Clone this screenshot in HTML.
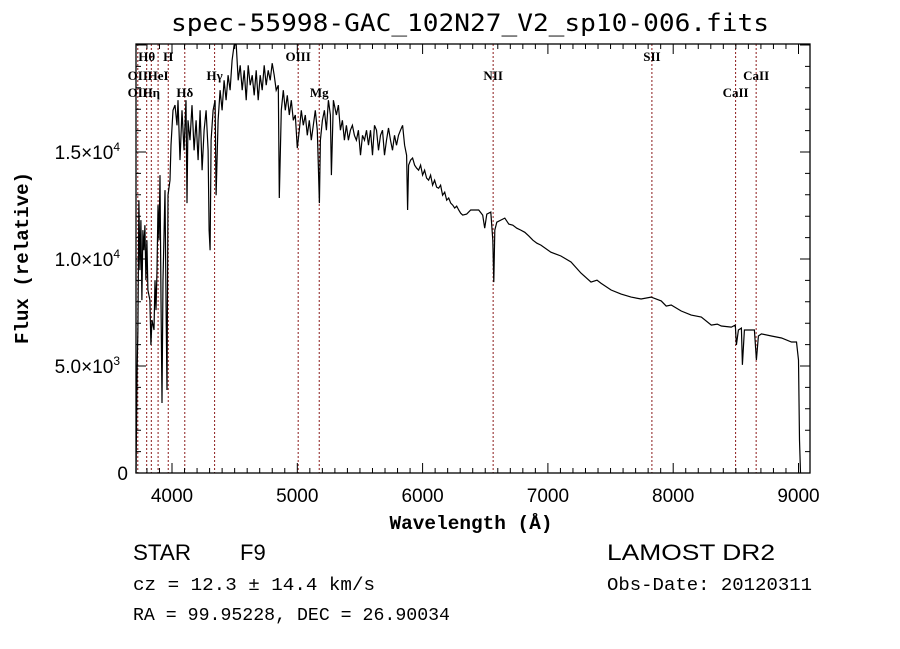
<!DOCTYPE html>
<html><head><meta charset="utf-8"><style>
html,body{margin:0;padding:0;background:#fff;}
svg{display:block;}
</style></head><body>
<svg id="chart" width="900" height="649" viewBox="0 0 900 649" xmlns="http://www.w3.org/2000/svg">
<rect x="0" y="0" width="900" height="649" fill="#fff"/>
<text x="470" y="31" text-anchor="middle" font-family="DejaVu Sans Mono, Liberation Mono, monospace" font-size="24" textLength="598" lengthAdjust="spacingAndGlyphs">spec-55998-GAC_102N27_V2_sp10-006.fits</text>
<g id="lines"></g>
<g id="spec"></g>
<g id="axes"></g>
<text x="471" y="529" text-anchor="middle" font-family="Liberation Mono, monospace" font-size="19" font-weight="bold" textLength="163" lengthAdjust="spacingAndGlyphs">Wavelength (Å)</text>
<text transform="translate(28,258) rotate(-90)" text-anchor="middle" font-family="Liberation Mono, monospace" font-size="19" font-weight="bold" textLength="172" lengthAdjust="spacingAndGlyphs">Flux (relative)</text>
<text x="133" y="560" font-family="Liberation Sans, sans-serif" font-size="22" textLength="58" lengthAdjust="spacingAndGlyphs">STAR</text>
<text x="240" y="560" font-family="Liberation Sans, sans-serif" font-size="22">F9</text>
<text x="607" y="560" font-family="Liberation Sans, sans-serif" font-size="22" textLength="168" lengthAdjust="spacingAndGlyphs">LAMOST DR2</text>
<text x="133" y="590" font-family="Liberation Mono, monospace" font-size="18" textLength="242" lengthAdjust="spacingAndGlyphs">cz = 12.3 ± 14.4 km/s</text>
<text x="607" y="590" font-family="Liberation Mono, monospace" font-size="18" textLength="205" lengthAdjust="spacingAndGlyphs">Obs-Date: 20120311</text>
<text x="133" y="620" font-family="Liberation Mono, monospace" font-size="18" textLength="317" lengthAdjust="spacingAndGlyphs">RA =  99.95228, DEC =  26.90034</text>
</svg>
<script>
const wave = [3713,3722,3728,3736,3744,3752,3760,3768,3776,3784,3792,3800,3808,3824,3832,3840,3856,3864,3872,3880,3888,3896,3904,3912,3920,3928,3936,3944,3952,3960,3968,3984,3992,4008,4024,4040,4048,4064,4080,4096,4112,4120,4128,4144,4160,4176,4192,4208,4224,4240,4256,4272,4288,4296,4304,4312,4328,4344,4352,4368,4384,4400,4416,4432,4448,4464,4480,4496,4512,4528,4544,4560,4576,4592,4608,4624,4640,4656,4672,4688,4704,4720,4736,4752,4768,4784,4800,4816,4832,4848,4856,4872,4888,4904,4920,4936,4952,4968,4984,5000,5016,5032,5048,5064,5080,5096,5112,5128,5144,5160,5176,5184,5200,5216,5232,5248,5264,5272,5288,5312,5328,5344,5360,5376,5392,5408,5424,5440,5456,5472,5488,5504,5520,5536,5552,5568,5584,5600,5616,5632,5648,5664,5680,5696,5712,5728,5744,5760,5776,5792,5808,5824,5840,5856,5872,5880,5888,5904,5920,5936,5952,5968,5984,6000,6016,6032,6048,6064,6080,6096,6112,6128,6144,6160,6176,6192,6208,6224,6240,6256,6272,6288,6304,6320,6352,6384,6416,6448,6480,6496,6512,6544,6560,6568,6576,6592,6624,6656,6688,6720,6752,6784,6816,6848,6880,6912,6944,7024,7104,7184,7264,7344,7392,7424,7504,7584,7664,7744,7824,7904,7944,7984,8064,8144,8224,8304,8352,8384,8464,8496,8504,8520,8544,8552,8568,8624,8648,8664,8680,8704,8784,8864,8944,8984,9000,9008,9016];
const flux = [0,5000,6680,12750,9480,11820,8080,11350,10410,11580,9010,10880,8550,8080,5980,7150,6680,9010,7610,9480,12520,10880,13920,8080,3270,9010,11110,13220,8080,3880,12980,13680,15320,16950,17190,16250,17420,14620,16950,15080,17420,12610,16480,15550,17190,15080,16480,14620,16950,14150,16020,16950,15080,11350,10410,15550,16950,17420,12980,16480,17890,16950,18350,17420,18590,17890,19290,19990,20030,18350,19050,17890,18820,17420,19050,18120,18590,17650,18820,17420,18590,17890,19050,18120,18820,18350,19150,18590,17890,18120,12850,16950,17890,16950,17650,16730,17420,16480,16730,15180,16020,16950,16250,16730,15780,16480,15550,16250,16950,16020,12610,15550,16480,16950,16020,17420,16730,13920,17420,16730,17190,16020,16480,15550,16250,15550,16020,16250,15780,15550,16020,14850,15780,15550,16020,15320,16020,14850,16250,16020,15080,15780,16020,14850,15550,16120,15550,15080,15780,15320,15780,16020,16250,15320,14850,12290,14390,14620,14720,14390,14250,14150,14390,13920,14150,13780,13680,13920,13450,13680,13360,13310,13450,12980,13120,12750,12850,12610,12520,12380,12470,12290,12140,12050,12100,12290,12290,12290,12050,11440,12100,12190,10880,8920,11350,11720,11820,11910,11630,11580,11440,11350,11250,11070,10880,10740,10650,10320,10140,9860,9340,8920,9010,8870,8550,8360,8220,8130,8220,8040,7800,7850,7570,7380,7290,6910,6960,6870,6820,6910,5980,6680,6770,5050,6680,6680,6680,5280,6400,6500,6400,6310,6120,6120,5280,1540,0];
const lineWaves = [3727,3798,3835,3889,3970,4102,4340,5007,5175,6563,7830,8498,8662];
const labelNames = ["OII","Hθ","OII","Hη","HeI","H","Hδ","Hγ","OIII","Mg","NII","SII","CaII","CaII"];
const labelWaves = [3727,3798,3727,3835,3889,3970,4102,4340,5007,5175,6563,7830,8498,8662];
const labelRows = [1,0,2,2,1,0,2,1,0,2,1,0,2,1];
const xTicks = [4000,5000,6000,7000,8000,9000];
const yTicks = [0,5000,10000,15000];
const yTickLabels = ["0","5.0×10|3","1.0×10|4","1.5×10|4"];

const L=136,R=810,T=44,B=473;
const x = w => 172 + (w-4000)*0.1253;
const y = f => B - f*(107/5000);
const NS="http://www.w3.org/2000/svg";
function mk(tag, attrs, parent){const e=document.createElementNS(NS,tag);for(const k in attrs)e.setAttribute(k,attrs[k]);parent.appendChild(e);return e;}

const gl=document.getElementById('lines');
lineWaves.forEach(w=>{
  const l=mk('line',{x1:x(w),x2:x(w),y1:T,y2:B,stroke:'#8b1a1a','stroke-width':1,'stroke-dasharray':'2,2'},gl);
  
  
});
const rowY=[61,80,97];
labelNames.forEach((n,i)=>{
  const t=mk('text',{x:x(labelWaves[i]),y:rowY[labelRows[i]],'text-anchor':'middle','font-family':'Liberation Serif, serif','font-size':13,'font-weight':'bold'},gl);
  t.textContent=n;
  
  
});

const gs=document.getElementById('spec');
let d='';
wave.forEach((w,i)=>{d+=(i?'L':'M')+x(w).toFixed(1)+','+Math.max(T,y(flux[i])).toFixed(1);});
const p=mk('path',{d:d,fill:'none',stroke:'#000','stroke-width':1.2,'stroke-linejoin':'miter'},gs);



const ga=document.getElementById('axes');
const fr=mk('rect',{x:L,y:T,width:R-L,height:B-T,fill:'none',stroke:'#000','stroke-width':1.3},ga);


let td='';
for(let w=3800;w<=9100;w+=100){if(x(w)<L||x(w)>R)continue;const len=(w%1000===0)?10:5;td+=`M${x(w)},${B}v${-len}M${x(w)},${T}v${len}`;}
for(let f=0;f<=20000;f+=1000){const len=(f%5000===0)?10:5;td+=`M${L},${y(f)}h${len}M${R},${y(f)}h${-len}`;}
const tk=mk('path',{d:td,stroke:'#000','stroke-width':1,fill:'none'},ga);


xTicks.forEach(w=>{
  const t=mk('text',{x:x(w),y:502,'text-anchor':'middle','font-family':'Liberation Sans, sans-serif','font-size':19},ga);
  t.textContent=String(w);
  
  
});
yTicks.forEach((f,i)=>{
  const parts=yTickLabels[i].split('|');
  const t=mk('text',{x:parts.length>1?120:128,y:y(f)+7,'text-anchor':'end','font-family':'Liberation Sans, sans-serif','font-size':19},ga);
  t.textContent=parts[0];
  if(parts.length>1){const s=mk('tspan',{'font-size':12,dy:-8},t);s.textContent=parts[1];}
  
  
});
</script>
</body></html>
